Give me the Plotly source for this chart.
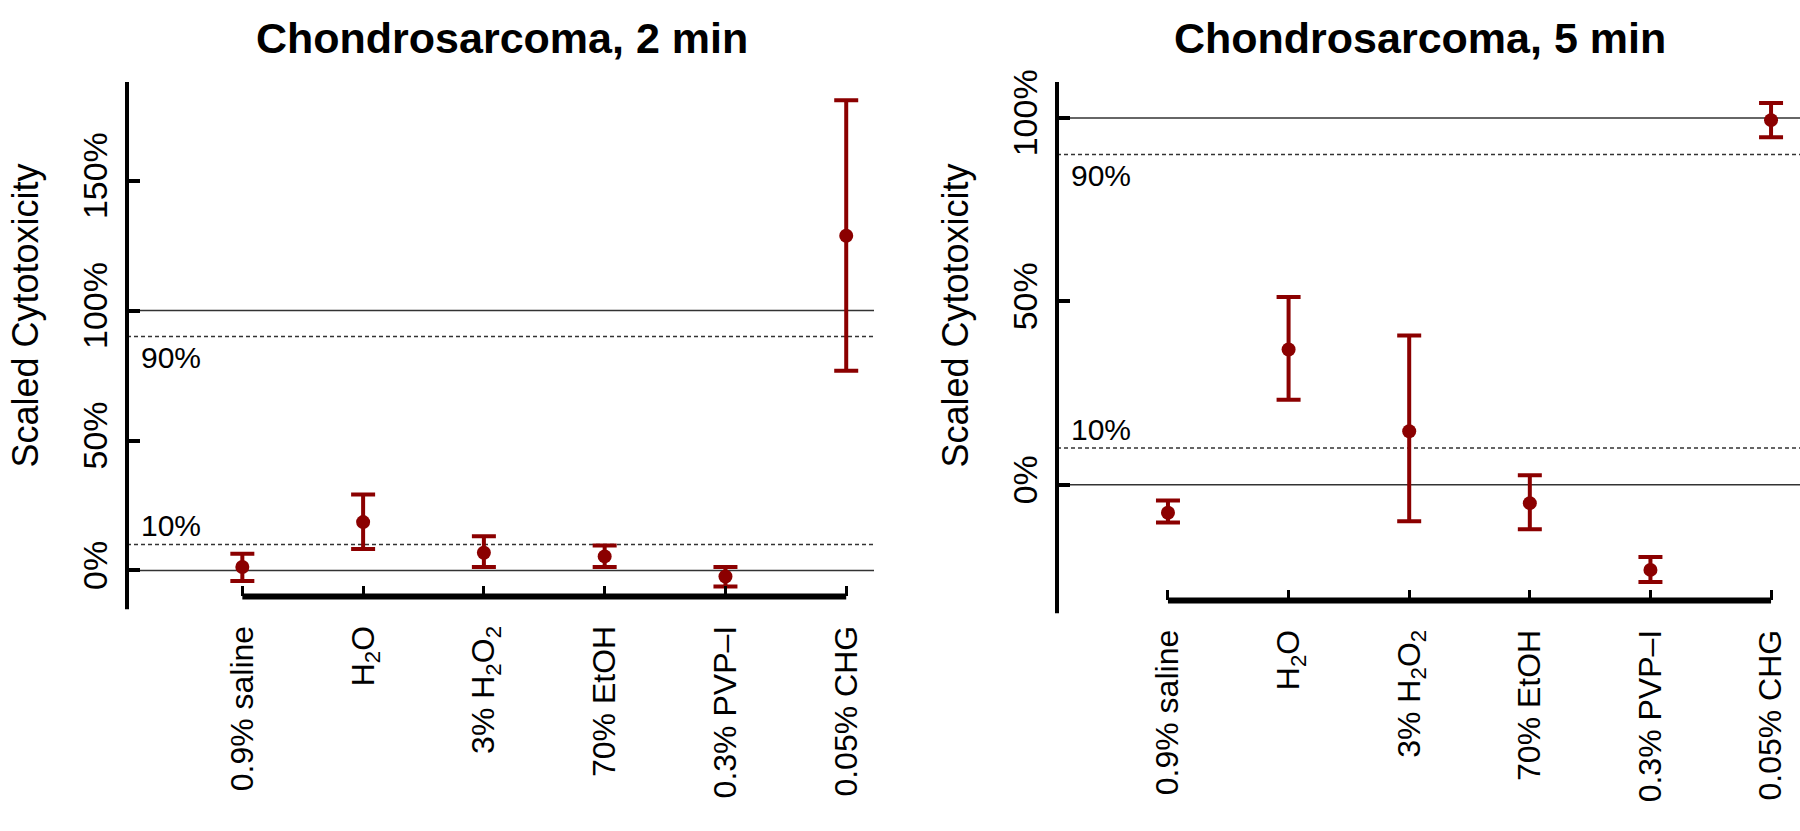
import plotly.graph_objects as go

# treatments (x axis)
labels = ["0.9% saline", "H<sub>2</sub>O", "3% H<sub>2</sub>O<sub>2</sub>",
          "70% EtOH", "0.3% PVP\u2013I", "0.05% CHG"]
xpos = list(range(len(labels)))

# 2 min: mean and interval ends (% scaled cytotoxicity)
mid_2 = [1.3, 18.6, 6.8, 5.4, -2.3, 128.8]
hi_2 = [6.4, 29.2, 13.2, 9.6, 1.3, 181.0]
lo_2 = [-4.1, 8.3, 1.3, 1.3, -6.2, 76.9]

# 5 min
mid_5 = [-7.6, 36.9, 14.6, -5.0, -23.2, 99.4]
hi_5 = [-4.3, 51.2, 40.7, 2.6, -19.7, 104.1]
lo_5 = [-10.3, 23.2, -9.9, -12.1, -26.5, 94.7]

ticks_2 = [0, 50, 100, 150]
ticks_5 = [0, 50, 100]
solid_lines = [0, 100]
dashed_lines = [10, 90]

RED = "#8B0000"
FONT = "Liberation Sans, Arial, sans-serif"

fig = go.Figure()

panels = [
    dict(mid=mid_2, hi=hi_2, lo=lo_2, ticks=ticks_2, xs="x", ys="y",
         xa="xaxis", ya="yaxis", xdom=[127/1800, 874/1800], ydom=[238/831, 760/831],
         xr=[-0.955, 5.23], yr=[-10, 188], title="Chondrosarcoma, 2 min", tx=502),
    dict(mid=mid_5, hi=hi_5, lo=lo_5, ticks=ticks_5, xs="x2", ys="y2",
         xa="xaxis2", ya="yaxis2", xdom=[1057/1800, 1.0], ydom=[234/831, 760/831],
         xr=[-0.92, 5.24], yr=[-31.5, 109.8], title="Chondrosarcoma, 5 min", tx=1420),
]

shapes = []
annotations = []
for p in panels:
    fig.add_trace(go.Scatter(
        x=xpos, y=p["mid"], mode="markers", xaxis=p["xs"], yaxis=p["ys"],
        marker=dict(color=RED, size=14),
        error_y=dict(type="data", symmetric=False,
                     array=[h - m for h, m in zip(p["hi"], p["mid"])],
                     arrayminus=[m - l for m, l in zip(p["mid"], p["lo"])],
                     color=RED, thickness=4, width=12),
        showlegend=False))

    fig.layout[p["xa"]] = dict(
        domain=p["xdom"], range=p["xr"], anchor=p["ys"], showgrid=False,
        zeroline=False, showline=False, tickvals=xpos, ticktext=labels,
        ticks="inside", ticklen=10, tickwidth=3, tickcolor="black",
        tickangle=-90, ticklabelstandoff=22,
        tickfont=dict(family=FONT, size=32, color="black"))
    fig.layout[p["ya"]] = dict(
        domain=p["ydom"], range=p["yr"], anchor=p["xs"], showgrid=False,
        zeroline=False, showline=False, tickvals=p["ticks"],
        ticktext=[f"{t}%" for t in p["ticks"]],
        ticks="inside", ticklen=13, tickwidth=4, tickcolor="black",
        tickangle=-90, ticklabelstandoff=12,
        tickfont=dict(family=FONT, size=34, color="black"))

    xd = p["xs"] + " domain"
    yd = p["ys"] + " domain"
    # axis lines
    shapes.append(dict(type="line", xref=xd, yref=yd, x0=0, x1=0, y0=-0.025, y1=1,
                       line=dict(color="black", width=4)))
    shapes.append(dict(type="line", xref=p["xs"], yref=yd, x0=xpos[0], x1=xpos[-1],
                       y0=0, y1=0, line=dict(color="black", width=6)))
    # reference lines
    for v in solid_lines:
        shapes.append(dict(type="line", xref=xd, yref=p["ys"], x0=0, x1=1, y0=v, y1=v,
                           line=dict(color="#333333", width=1.5), layer="below"))
    for v in dashed_lines:
        shapes.append(dict(type="line", xref=xd, yref=p["ys"], x0=0, x1=1, y0=v, y1=v,
                           line=dict(color="#333333", width=1.5, dash="4px,3px"),
                           layer="below"))
    annotations.append(dict(text="90%", xref=xd, yref=p["ys"], x=0, y=90,
                            xanchor="left", yanchor="top", xshift=12, yshift=-2,
                            showarrow=False, font=dict(family=FONT, size=30, color="black")))
    annotations.append(dict(text="10%", xref=xd, yref=p["ys"], x=0, y=10,
                            xanchor="left", yanchor="bottom", xshift=12, yshift=0,
                            showarrow=False, font=dict(family=FONT, size=30, color="black")))
    annotations.append(dict(text="<b>" + p["title"] + "</b>", xref="paper", yref="paper",
                            x=p["tx"] / 1800, y=1, xanchor="center",
                            yanchor="top", showarrow=False,
                            font=dict(family=FONT, size=43, color="black")))
    annotations.append(dict(text="Scaled Cytotoxicity", xref="paper", yref="paper",
                            x=(p["xdom"][0] * 1800 - 101) / 1800, y=1 - 308 / 831,
                            xanchor="center", yanchor="middle", textangle=-90,
                            showarrow=False, font=dict(family=FONT, size=36, color="black")))

fig.update_layout(width=1800, height=831, margin=dict(l=0, r=0, t=0, b=0),
                  plot_bgcolor="white", paper_bgcolor="white",
                  shapes=shapes, annotations=annotations)

# drop the page's default body margin so the figure sits at the window corner
fig.write_html("out.html", config={"displayModeBar": False},
               post_script="document.body.style.margin='0';"
                           "document.body.style.overflow='hidden';")
